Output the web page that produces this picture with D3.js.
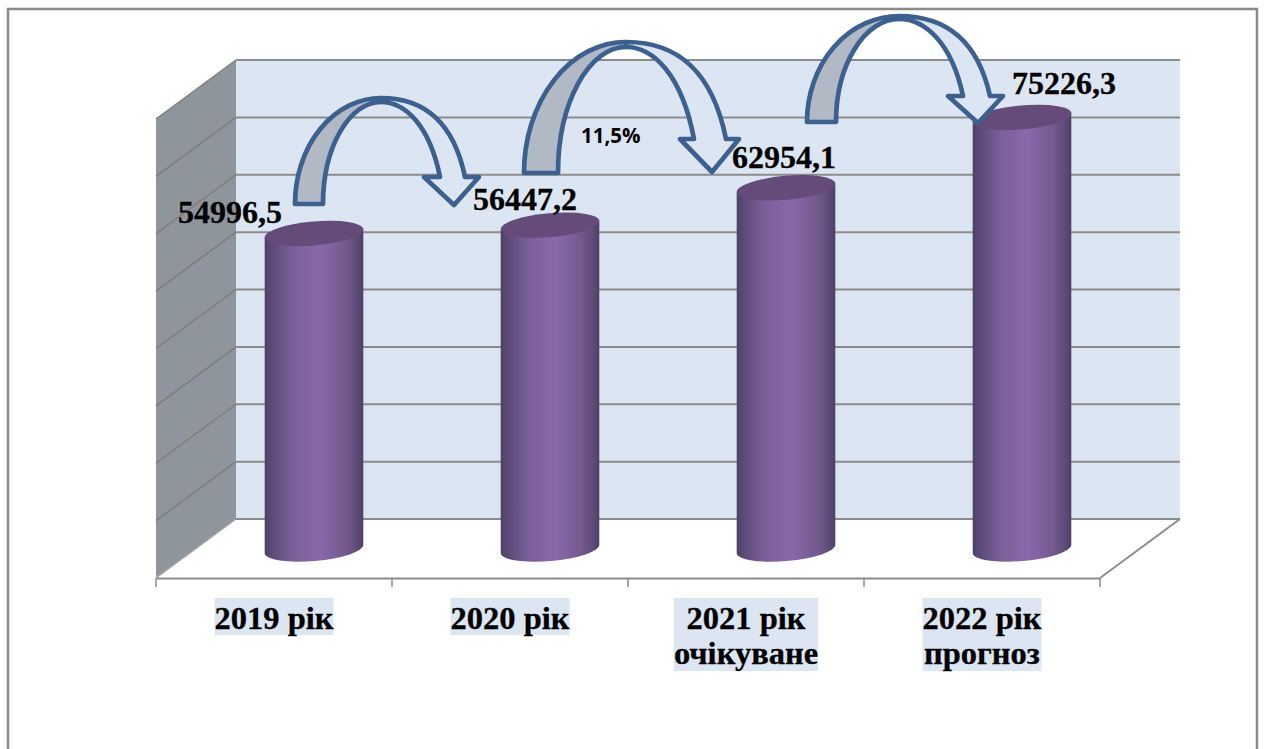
<!DOCTYPE html>
<html>
<head>
<meta charset="utf-8">
<title>Chart</title>
<script src="https://d3js.org/d3.v7.min.js"></script>
<style>
html, body { margin: 0; padding: 0; background: #fff; overflow: hidden; }
svg { display: block; }
.val { font: bold 32px "Liberation Serif", serif; fill: #000; stroke: #000; stroke-width: 0.3px; }
.cat { font: bold 32.5px "Liberation Serif", serif; fill: #000; stroke: #000; stroke-width: 0.3px; text-anchor: middle; }
.pct { font: bold 20.5px "Open Sans", sans-serif; fill: #000; }
</style>
</head>
<body>
<svg width="1264" height="749"></svg>
<script>

// values
var categories = ["2019 рік", "2020 рік", "2021 рік", "2022 рік"];
var subLabels = ["", "", "очікуване", "прогноз"];
var values = [54996.5, 56447.2, 62954.1, 75226.3];
var valueLabels = ["54996,5", "56447,2", "62954,1", "75226,3"];
var yTicks = [0, 10000, 20000, 30000, 40000, 50000, 60000, 70000, 80000];

var svg = d3.select("svg");

// chart box
var frontLeft = 156, frontRight = 1100, frontBottom = 578;
var depthX = 80, depthY = 59;
var wallTop = 60, wallBottom = 519;

var x = d3.scaleBand().domain(categories).range([frontLeft, frontRight]);
var yWall = d3.scaleLinear().domain([0, 80000]).range([wallBottom, wallTop]);
// cylinders stand half way into the floor
var yBar = d3.scaleLinear().domain([0, 80000]).range([549, 549 - (wallBottom - wallTop)]);

var defs = svg.append("defs");
var grad = defs.append("linearGradient").attr("id", "cyl");
[[0, "#4f4068"], [0.1, "#5f4d7c"], [0.27, "#7a5e98"], [0.55, "#8a69aa"], [0.82, "#73598e"], [0.93, "#5f4c78"], [1, "#4f4068"]]
    .forEach(function(s) {
        grad.append("stop").attr("offset", s[0]).attr("stop-color", s[1]);
    });

// page frame, open at the bottom
svg.append("path")
    .attr("d", "M8,749 V9 H1257 V749")
    .attr("fill", "none").attr("stroke", "#8a8a8a").attr("stroke-width", 2.5);

// back wall
var wallLeft = frontLeft + depthX, wallRight = frontRight + depthX;
svg.append("rect")
    .attr("x", wallLeft).attr("y", wallTop)
    .attr("width", wallRight - wallLeft).attr("height", wallBottom - wallTop)
    .attr("fill", "#dce6f2");

// side wall
svg.append("path")
    .attr("d", "M" + frontLeft + "," + (wallTop + depthY) + " L" + wallLeft + "," + wallTop +
        " V" + wallBottom + " L" + frontLeft + "," + frontBottom + " Z")
    .attr("fill", "#8e959c");

// grid lines on both walls
var grid = svg.append("g").attr("fill", "none");
yTicks.forEach(function(t) {
    var yy = yWall(t);
    grid.append("path")
        .attr("d", "M" + frontLeft + "," + (yy + depthY) + " L" + wallLeft + "," + yy)
        .attr("stroke", t === 0 ? "#a8a8a8" : "#7f7d7a").attr("stroke-width", 1.5);
    grid.append("path")
        .attr("d", "M" + wallLeft + "," + yy + " H" + wallRight)
        .attr("stroke", "#8c8c8c").attr("stroke-width", 2);
});

// floor edges and x axis
svg.append("path")
    .attr("d", "M" + frontRight + "," + frontBottom + " L" + wallRight + "," + wallBottom)
    .attr("fill", "none").attr("stroke", "#8c8c8c").attr("stroke-width", 2);

var axis = d3.axisBottom(x).tickSizeOuter(0).tickSize(0).tickFormat("");
var axisG = svg.append("g").attr("transform", "translate(0," + frontBottom + ")").call(axis);
axisG.select(".domain").attr("stroke", "#8c8c8c").attr("stroke-width", 2);
categories.concat(null).forEach(function(c) {
    var tx = c === null ? frontRight : x(c);
    axisG.append("line")
        .attr("x1", tx).attr("x2", tx).attr("y1", 0).attr("y2", 9)
        .attr("stroke", "#8c8c8c").attr("stroke-width", 1.5);
});

// cylinders
var rx = 49.5, ry = 12, tilt = -5;
var dx = rx * Math.cos(tilt * Math.PI / 180), dy = rx * Math.sin(tilt * Math.PI / 180);
var bars = svg.append("g").selectAll("g").data(categories).enter().append("g");

bars.append("path")
    .attr("fill", "url(#cyl)")
    .attr("d", function(c, i) {
        var cx = x(c) + x.bandwidth() / 2 + depthX / 2;
        var top = yBar(values[i]), base = yBar(0);
        return "M" + (cx - dx) + "," + (top - dy) +
            " L" + (cx - dx) + "," + (base - dy) +
            " A" + rx + "," + ry + " " + tilt + " 0 0 " + (cx + dx) + "," + (base + dy) +
            " L" + (cx + dx) + "," + (top + dy) + " Z";
    });

bars.append("ellipse")
    .attr("rx", rx).attr("ry", ry)
    .attr("fill", "#644b7a")
    .attr("transform", function(c, i) {
        return "translate(" + (x(c) + x.bandwidth() / 2 + depthX / 2) + "," + yBar(values[i]) + ") rotate(" + tilt + ")";
    });

// curved arrows between the years
var arrows = [
    { baseL: 295, baseR: 323, baseY: 204, topY: 98, apexX: 381, apexY: 102, wingL: 424, wingR: 479, neckL: 440, neckR: 465, headY: 177, tipX: 454, tipY: 205 },
    { baseL: 524, baseR: 558, baseY: 173, topY: 42, apexX: 626, apexY: 47, wingL: 680, wingR: 739, neckL: 694, neckR: 726, headY: 139, tipX: 712, tipY: 172 },
    { baseL: 807, baseR: 836, baseY: 122, topY: 16, apexX: 899, apexY: 19, wingL: 948, wingR: 1003, neckL: 963, neckR: 990, headY: 96, tipX: 978, tipY: 123 }
];

var arrowG = svg.append("g")
    .attr("stroke", "#3c608f").attr("stroke-width", 4.7).attr("stroke-linejoin", "round");

arrows.forEach(function(a) {
    var outerW = a.neckR - a.apexX, outerH = a.headY - a.topY;
    var innerW = a.neckL - a.apexX, innerH = a.headY - a.apexY;
    var back = "M" + a.baseL + "," + a.baseY +
        " A" + (a.apexX - a.baseL) + "," + (a.baseY - a.topY) + " 0 0 1 " + a.apexX + "," + a.topY +
        " L" + a.apexX + "," + a.apexY +
        " A" + (a.apexX - a.baseR) + "," + (a.baseY - a.apexY) + " 0 0 0 " + a.baseR + "," + a.baseY + " Z";
    var front = "M" + a.apexX + "," + a.topY +
        " C" + (a.apexX + 0.5 * outerW) + "," + a.topY + " " +
        (a.neckR - 0.14 * outerW) + "," + (a.topY + 0.28 * outerH) + " " + a.neckR + "," + a.headY +
        " L" + a.wingR + "," + a.headY +
        " L" + a.tipX + "," + a.tipY +
        " L" + a.wingL + "," + a.headY +
        " L" + a.neckL + "," + a.headY +
        " C" + (a.neckL - 0.18 * innerW) + "," + (a.apexY + 0.3 * innerH) + " " +
        (a.apexX + 0.4 * innerW) + "," + a.apexY + " " + a.apexX + "," + a.apexY + " Z";
    arrowG.append("path").attr("d", front).attr("fill", "#dce6f2");
    arrowG.append("path").attr("d", back).attr("fill", "#b0b9c4");
});

// value labels
var labelX = [178, 473, 732, 1012];
var labelY = [223, 210, 168, 94];
svg.selectAll(".val").data(valueLabels).enter().append("text")
    .attr("class", "val")
    .attr("x", function(d, i) { return labelX[i]; })
    .attr("y", function(d, i) { return labelY[i]; })
    .text(function(d) { return d; });

svg.append("text").attr("class", "pct").attr("x", 581).attr("y", 143).text("11,5%");

// category labels with their pale background
var catG = svg.selectAll(".catg").data(categories).enter().append("g");
catG.each(function(c, i) {
    var g = d3.select(this);
    var cx = x(c) + x.bandwidth() / 2;
    var t1 = g.append("text").attr("class", "cat").attr("x", cx).attr("y", 629).text(c);
    var t2 = null;
    if (subLabels[i]) t2 = g.append("text").attr("class", "cat").attr("x", cx).attr("y", 664).text(subLabels[i]);
    var w = Math.max(t1.node().getComputedTextLength(), t2 ? t2.node().getComputedTextLength() : 0);
    g.insert("rect", "text")
        .attr("x", cx - w / 2).attr("y", 598)
        .attr("width", w).attr("height", t2 ? 73 : 37)
        .attr("fill", "#dce6f2");
});

</script>
</body>
</html>
